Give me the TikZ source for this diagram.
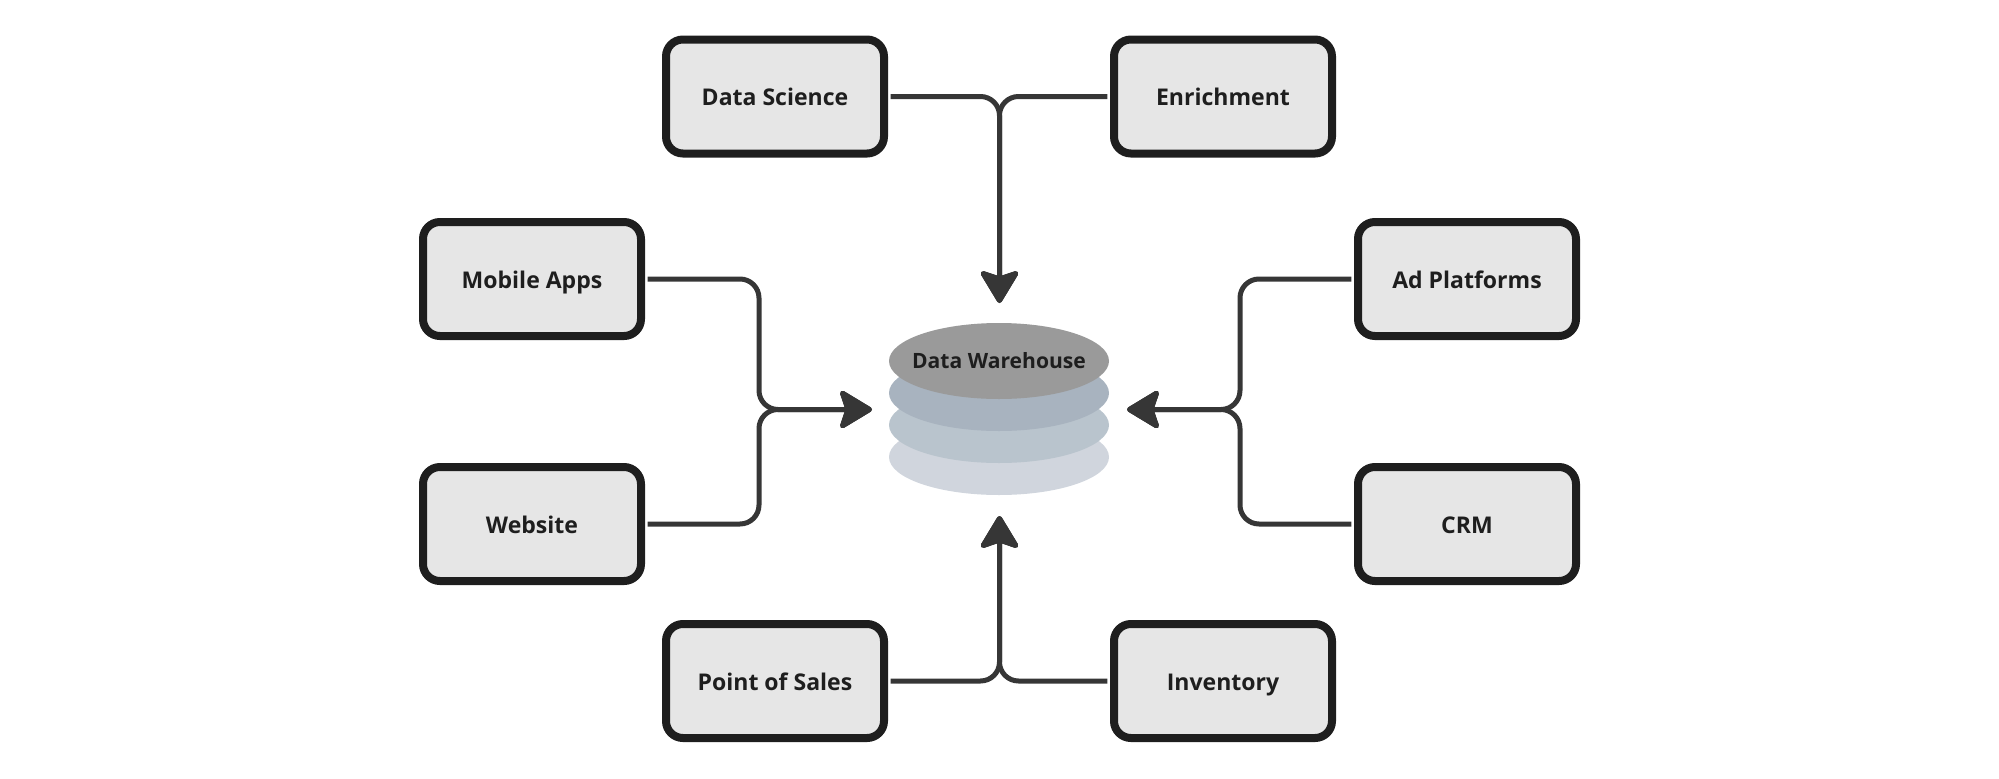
\documentclass[tikz,border=0pt]{standalone}
\usepackage{xcolor}
\usepackage{fontspec}
\setmainfont{Open Sans}
\definecolor{mfill}{HTML}{E6E6E6}
\definecolor{mline}{HTML}{1E1E1E}
\definecolor{mwire}{HTML}{363636}
\definecolor{mtop}{HTML}{9A9A9A}
\definecolor{mlayera}{HTML}{A8B3BF}
\definecolor{mlayerb}{HTML}{B9C4CD}
\definecolor{mlayerc}{HTML}{D0D5DD}
\usetikzlibrary{arrows.meta}
\usetikzlibrary{shapes.geometric}
\tikzset{
  sourcebox/.style={draw=mline, fill=mfill, line width=0.08cm, rounded corners=0.17cm,
    minimum width=2.18cm, minimum height=1.14cm, inner sep=0pt, outer sep=0.066cm,
    text=mline, text height=5.2pt, text depth=0pt, font=\fontsize{6.55pt}{8pt}\selectfont\bfseries},
  layer/.style={ellipse, minimum width=2.2cm, minimum height=0.76cm, inner sep=0pt},
  layertext/.style={text=mline, text height=4.5pt, text depth=0pt, font=\fontsize{6pt}{8pt}\selectfont\bfseries},
  wire/.style={line width=0.05cm, mwire, rounded corners=0.19cm},
  feed/.style={wire, -{Stealth[length=0.36cm, width=0.43cm, inset=0.07cm, round]}}
}

\begin{document}
\begin{tikzpicture}
            \useasboundingbox (0,0) rectangle (19.99,7.78);

            % Stacked layers of the warehouse, lowest one first
            \foreach \yy/\col in {3.21/mlayerc, 3.53/mlayerb, 3.85/mlayera}
              \node[layer, fill=\col] at (9.99,\yy) {};
            \node[layer, fill=mtop, label={[layertext, name=warehousetext]center:Data Warehouse}] (warehouse) at (9.99,4.17) {};

            % Top row
            \node[sourcebox] (science) at (7.75,6.815) {Data Science};
            \node[sourcebox] (enrichment) at (12.23,6.815) {Enrichment};

            % Middle rows
            \node[sourcebox] (mobile) at (5.32,4.99) {Mobile Apps};
            \node[sourcebox] (website) at (5.32,2.54) {Website};
            \node[sourcebox] (adplatforms) at (14.67,4.99) {Ad Platforms};
            \node[sourcebox] (crm) at (14.67,2.54) {CRM};

            % Bottom row
            \node[sourcebox] (sales) at (7.75,0.97) {Point of Sales};
            \node[sourcebox] (inventory) at (12.23,0.97) {Inventory};

            % Arrow ends around the warehouse and the two side buses
            \coordinate (toptip) at (9.995,4.75);
            \coordinate (bottomtip) at (9.995,2.62);
            \coordinate (lefttip) at (8.72,3.685);
            \coordinate (righttip) at (11.27,3.685);
            \coordinate (leftbus) at (7.59,3.685);
            \coordinate (rightbus) at (12.40,3.685);

            % Connectors
            \draw[feed] (science.east) -| (toptip);
            \draw[feed] (enrichment.west) -| (toptip);
            \draw[feed] (sales.east) -| (bottomtip);
            \draw[feed] (inventory.west) -| (bottomtip);
            \draw[feed] (mobile.east) -| (leftbus) -- (lefttip);
            \draw[feed] (website.east) -| (leftbus) -- (lefttip);
            \draw[feed] (adplatforms.west) -| (rightbus) -- (righttip);
            \draw[feed] (crm.west) -| (rightbus) -- (righttip);
          \end{tikzpicture}
\end{document}
